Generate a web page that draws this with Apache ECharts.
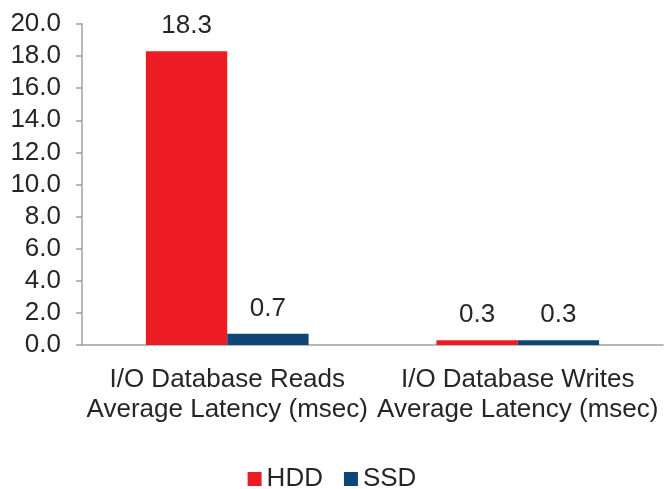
<!DOCTYPE html>
<html><head><meta charset="utf-8">
<script src="https://cdn.jsdelivr.net/npm/echarts@6/dist/echarts.min.js"></script>
<style>html,body{margin:0;padding:0;background:#fff}#c{width:664px;height:489px}</style>
</head><body><div id="c"></div>
<script>
const categories = ["I/O Database Reads\nAverage Latency (msec)", "I/O Database Writes\nAverage Latency (msec)"];
const hdd = [18.3, 0.3];
const ssd = [0.7, 0.3];
const seriesNames = ["HDD", "SSD"];

const font = "'Liberation Sans', Arial, sans-serif";
const txt = '#262626';
const chart = echarts.init(document.getElementById('c'));
chart.setOption({
  animation: false,
  textStyle: {fontFamily: font},
  grid: {left: 82, right: 1, top: 24, bottom: 144, containLabel: false},
  legend: {
    top: 461, left: 'center', icon: 'rect', itemWidth: 14, itemHeight: 14, itemGap: 21,
    textStyle: {fontSize: 26, color: txt, fontFamily: font},
    data: seriesNames
  },
  xAxis: {
    type: 'category', data: categories,
    axisLine: {lineStyle: {color: '#A0A0A0', width: 1.5}},
    axisTick: {length: 6, lineStyle: {color: '#A0A0A0', width: 1.5}},
    axisLabel: {interval: 0, fontSize: 26, color: txt, lineHeight: 30, margin: 20, fontFamily: font}
  },
  yAxis: {
    type: 'value', min: 0, max: 20, interval: 2,
    axisLine: {show: true, lineStyle: {color: '#A0A0A0', width: 1.5}},
    axisTick: {show: true, length: 6, lineStyle: {color: '#A0A0A0', width: 1.5}},
    splitLine: {show: false},
    axisLabel: {fontSize: 26, color: txt, margin: 21, fontFamily: font, formatter: v => v.toFixed(1)}
  },
  series: [
    {name: seriesNames[0], type: 'bar', data: hdd, barGap: '0%', barCategoryGap: '44%',
     itemStyle: {color: '#ED1C24'},
     label: {show: true, position: 'top', distance: 12, fontSize: 26, color: txt, fontFamily: font, formatter: p => p.value.toFixed(1)}},
    {name: seriesNames[1], type: 'bar', data: ssd, barGap: '0%', barCategoryGap: '44%',
     itemStyle: {color: '#0D4676'},
     label: {show: true, position: 'top', distance: 12, fontSize: 26, color: txt, fontFamily: font, formatter: p => p.value.toFixed(1)}}
  ]
});
</script></body></html>
